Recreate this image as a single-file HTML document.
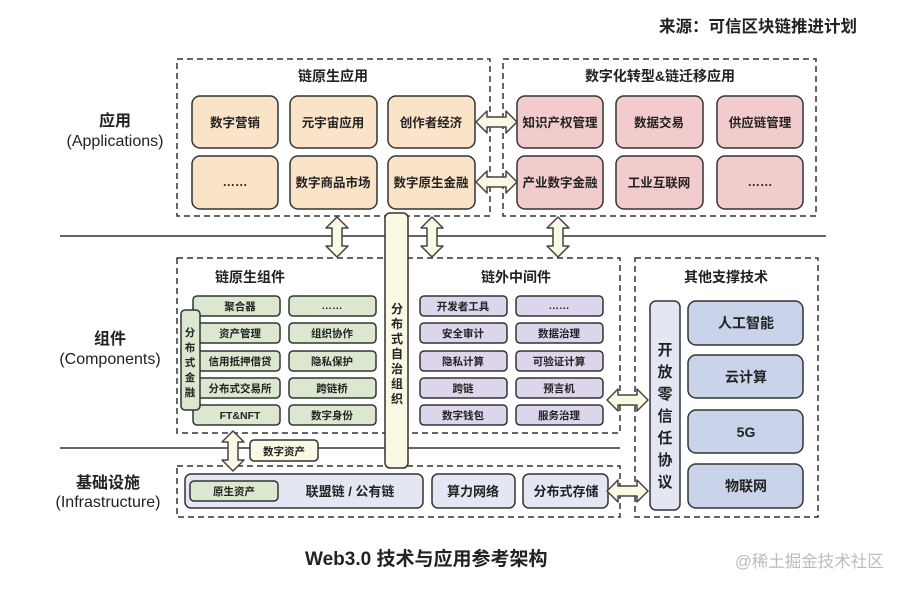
<!DOCTYPE html>
<html><head><meta charset="utf-8">
<style>
html,body{margin:0;padding:0;background:#fff;}
svg{display:block;}
text{font-family:"Liberation Sans","Noto Sans CJK SC",sans-serif;fill:#222;}
.b{font-weight:bold;}
</style></head><body>
<svg width="915" height="591" viewBox="0 0 915 591" xmlns="http://www.w3.org/2000/svg">
<defs>
<g id="ha"><polygon points="0,0 11,-11 11,-5 30,-5 30,-11 41,0 30,11 30,5 11,5 11,11" fill="#fbf8e4" stroke="#444" stroke-width="1.5" stroke-linejoin="round"/></g>
<g id="va"><polygon points="0,0 -11,11 -5,11 -5,29 -11,29 0,40 11,29 5,29 5,11 11,11" fill="#fbf8e4" stroke="#444" stroke-width="1.5" stroke-linejoin="round"/></g>
</defs>

<text x="857" y="32" font-size="16.5" class="b" text-anchor="end">来源：可信区块链推进计划</text>

<line x1="60" y1="236" x2="826" y2="236" stroke="#333" stroke-width="1.5"/>
<line x1="60" y1="448" x2="620" y2="448" stroke="#333" stroke-width="1.5"/>

<g font-size="16" text-anchor="middle">
<text x="115" y="126" class="b">应用</text>
<text x="115" y="146">(Applications)</text>
<text x="110" y="344" class="b">组件</text>
<text x="110" y="364">(Components)</text>
<text x="108" y="488" class="b">基础设施</text>
<text x="108" y="507">(Infrastructure)</text>
</g>

<g fill="none" stroke="#333" stroke-width="1.5" stroke-dasharray="6,4">
<rect x="177" y="59" width="313" height="157"/>
<rect x="503" y="59" width="313" height="157"/>
<rect x="177" y="258" width="443" height="175"/>
<rect x="635" y="258" width="183" height="259"/>
<rect x="177" y="466" width="443" height="51"/>
</g>

<g font-size="14" class="b" text-anchor="middle">
<text x="333" y="81">链原生应用</text>
<text x="660" y="81">数字化转型&amp;链迁移应用</text>
<text x="250" y="282">链原生组件</text>
<text x="516" y="282">链外中间件</text>
<text x="726" y="282">其他支撑技术</text>
</g>

<g fill="#fbe3c8" stroke="#333" stroke-width="1.5">
<rect x="192" y="96" width="86" height="52" rx="8"/>
<rect x="290" y="96" width="87" height="52" rx="8"/>
<rect x="388" y="96" width="87" height="52" rx="8"/>
<rect x="192" y="156" width="86" height="53" rx="8"/>
<rect x="290" y="156" width="87" height="53" rx="8"/>
<rect x="388" y="156" width="87" height="53" rx="8"/>
</g>
<g font-size="12.5" class="b" text-anchor="middle">
<text x="235" y="127">数字营销</text>
<text x="333" y="127">元宇宙应用</text>
<text x="431" y="127">创作者经济</text>
<text x="235" y="186">……</text>
<text x="333" y="187">数字商品市场</text>
<text x="431" y="187">数字原生金融</text>
</g>

<g fill="#f2cccc" stroke="#333" stroke-width="1.5">
<rect x="517" y="96" width="86" height="52" rx="8"/>
<rect x="616" y="96" width="87" height="52" rx="8"/>
<rect x="717" y="96" width="86" height="52" rx="8"/>
<rect x="517" y="156" width="86" height="53" rx="8"/>
<rect x="616" y="156" width="87" height="53" rx="8"/>
<rect x="717" y="156" width="86" height="53" rx="8"/>
</g>
<g font-size="12.5" class="b" text-anchor="middle">
<text x="560" y="127">知识产权管理</text>
<text x="659" y="127">数据交易</text>
<text x="760" y="127">供应链管理</text>
<text x="560" y="187">产业数字金融</text>
<text x="659" y="187">工业互联网</text>
<text x="760" y="186">……</text>
</g>

<use href="#ha" x="476" y="122"/>
<use href="#ha" x="476" y="182"/>
<use href="#va" x="337" y="217"/>
<use href="#va" x="432" y="217"/>
<use href="#va" x="558" y="217"/>
<use href="#va" x="233" y="431"/>

<rect x="385" y="213" width="23" height="255" rx="5" fill="#fbf8e4" stroke="#333" stroke-width="1.5"/>
<g font-size="12" class="b" text-anchor="middle">
<text x="397" y="313">分</text><text x="397" y="328">布</text><text x="397" y="343">式</text><text x="397" y="358">自</text><text x="397" y="373">治</text><text x="397" y="388">组</text><text x="397" y="403">织</text>
</g>

<g fill="#dbe8cf" stroke="#333" stroke-width="1.5">
<rect x="193" y="296" width="87" height="20" rx="4"/>
<rect x="193" y="323" width="87" height="20" rx="4"/>
<rect x="193" y="351" width="87" height="20" rx="4"/>
<rect x="193" y="378" width="87" height="20" rx="4"/>
<rect x="193" y="405" width="87" height="20" rx="4"/>
<rect x="289" y="296" width="87" height="20" rx="4"/>
<rect x="289" y="323" width="87" height="20" rx="4"/>
<rect x="289" y="351" width="87" height="20" rx="4"/>
<rect x="289" y="378" width="87" height="20" rx="4"/>
<rect x="289" y="405" width="87" height="20" rx="4"/>
<rect x="181" y="310" width="19" height="100" rx="4"/>
</g>
<g font-size="10.5" class="b" text-anchor="middle">
<text x="240" y="310">聚合器</text>
<text x="240" y="337">资产管理</text>
<text x="240" y="365">信用抵押借贷</text>
<text x="240" y="392">分布式交易所</text>
<text x="240" y="419">FT&amp;NFT</text>
<text x="332" y="309">……</text>
<text x="332" y="337">组织协作</text>
<text x="332" y="365">隐私保护</text>
<text x="332" y="392">跨链桥</text>
<text x="332" y="419">数字身份</text>
<text x="190" y="336">分</text><text x="190" y="351">布</text><text x="190" y="366">式</text><text x="190" y="381">金</text><text x="190" y="396">融</text>
</g>

<g fill="#ddd5ec" stroke="#333" stroke-width="1.5">
<rect x="420" y="296" width="87" height="20" rx="4"/>
<rect x="420" y="323" width="87" height="20" rx="4"/>
<rect x="420" y="351" width="87" height="20" rx="4"/>
<rect x="420" y="378" width="87" height="20" rx="4"/>
<rect x="420" y="405" width="87" height="20" rx="4"/>
<rect x="516" y="296" width="87" height="20" rx="4"/>
<rect x="516" y="323" width="87" height="20" rx="4"/>
<rect x="516" y="351" width="87" height="20" rx="4"/>
<rect x="516" y="378" width="87" height="20" rx="4"/>
<rect x="516" y="405" width="87" height="20" rx="4"/>
</g>
<g font-size="10.5" class="b" text-anchor="middle">
<text x="463" y="310">开发者工具</text>
<text x="463" y="337">安全审计</text>
<text x="463" y="365">隐私计算</text>
<text x="463" y="392">跨链</text>
<text x="463" y="419">数字钱包</text>
<text x="559" y="309">……</text>
<text x="559" y="337">数据治理</text>
<text x="559" y="365">可验证计算</text>
<text x="559" y="392">预言机</text>
<text x="559" y="419">服务治理</text>
</g>

<rect x="250" y="440" width="68" height="21" rx="4" fill="#fbf8e4" stroke="#333" stroke-width="1.5"/>
<text x="284" y="455" font-size="10.5" class="b" text-anchor="middle">数字资产</text>

<g fill="#e3e7f3" stroke="#333" stroke-width="1.5">
<rect x="185" y="474" width="238" height="34" rx="6"/>
<rect x="432" y="474" width="83" height="34" rx="6"/>
<rect x="523" y="474" width="85" height="34" rx="6"/>
</g>
<rect x="190" y="481" width="88" height="20" rx="4" fill="#dbe8cf" stroke="#333" stroke-width="1.5"/>
<text x="234" y="495" font-size="10.5" class="b" text-anchor="middle">原生资产</text>
<g font-size="13" class="b" text-anchor="middle">
<text x="350" y="496">联盟链 / 公有链</text>
<text x="473" y="496">算力网络</text>
<text x="566" y="496">分布式存储</text>
</g>

<use href="#ha" x="607" y="400"/>
<use href="#ha" x="607" y="491"/>

<rect x="650" y="301" width="30" height="209" rx="6" fill="#e3e7f3" stroke="#333" stroke-width="1.5"/>
<g font-size="15" class="b" text-anchor="middle">
<text x="665" y="355">开</text><text x="665" y="377">放</text><text x="665" y="399">零</text><text x="665" y="421">信</text><text x="665" y="443">任</text><text x="665" y="465">协</text><text x="665" y="487">议</text>
</g>
<g fill="#c9d3ea" stroke="#333" stroke-width="1.5">
<rect x="688" y="301" width="115" height="44" rx="8"/>
<rect x="688" y="355" width="115" height="43" rx="8"/>
<rect x="688" y="410" width="115" height="43" rx="8"/>
<rect x="688" y="464" width="115" height="44" rx="8"/>
</g>
<g font-size="14" class="b" text-anchor="middle">
<text x="746" y="328">人工智能</text>
<text x="746" y="382">云计算</text>
<text x="746" y="437">5G</text>
<text x="746" y="491">物联网</text>
</g>

<text x="305" y="565" font-size="19" class="b">Web3.0 技术与应用参考架构</text>
<text x="735" y="567" font-size="16.5" style="fill:#bbb">@稀土掘金技术社区</text>
</svg>
</body></html>
